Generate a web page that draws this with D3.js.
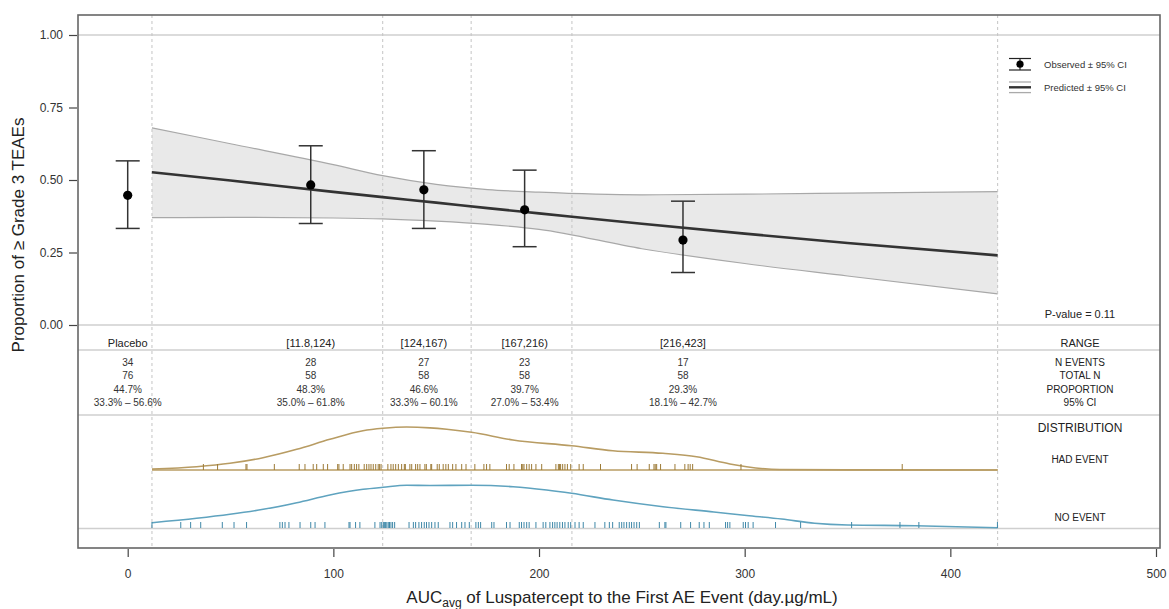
<!DOCTYPE html>
<html lang="en">
<head>
  <meta charset="UTF-8">
  <title>Exposure-response: Grade 3 TEAEs</title>
  <script src="https://d3js.org/d3.v7.min.js"></script>
  <style>
    body { margin: 0; padding: 0; background: #fff; font-family: "Liberation Sans", Arial, sans-serif; }
    svg { display: block; }
    .axis text { font-size: 12px; fill: #333; font-family: "Liberation Sans", Arial, sans-serif; }
    .axis path { display: none; }
    .axis line { stroke: #444; stroke-width: 1.2; }
    .tbl { font-size: 10px; fill: #333; text-anchor: middle; }
  </style>
</head>
<body>
<div id="chart"></div>
<script>
  // observed bins
  const binLabels = ["Placebo", "[11.8,124)", "[124,167)", "[167,216)", "[216,423]"];
  const binX      = [0, 89, 144, 193, 270];
  const obsProp   = [0.447, 0.483, 0.466, 0.397, 0.293];
  const obsLo     = [0.333, 0.350, 0.333, 0.270, 0.181];
  const obsHi     = [0.566, 0.618, 0.601, 0.534, 0.427];
  const nEvents   = ["34", "28", "27", "23", "17"];
  const totalN    = ["76", "58", "58", "58", "58"];
  const propText  = ["44.7%", "48.3%", "46.6%", "39.7%", "29.3%"];
  const ciText    = ["33.3% \u2013 56.6%", "35.0% \u2013 61.8%", "33.3% \u2013 60.1%", "27.0% \u2013 53.4%", "18.1% \u2013 42.7%"];
  const binEdges  = [11.8, 124, 167, 216, 423];

  // predicted logistic fit
  const predX  = [11.8, 50, 100, 124, 150, 175, 200, 250, 300, 350, 423];
  const predY  = [0.527, 0.498, 0.459, 0.441, 0.422, 0.403, 0.385, 0.349, 0.315, 0.283, 0.240];
  const predLo = [0.370, 0.371, 0.369, 0.366, 0.358, 0.347, 0.330, 0.263, 0.212, 0.169, 0.107];
  const predHi = [0.680, 0.625, 0.553, 0.515, 0.485, 0.467, 0.458, 0.449, 0.451, 0.455, 0.460];

  // exposure of subjects
  const hadEventAuc = [36.8, 43.7, 57.5, 58.0, 71.3, 83.4, 86.2, 90.2, 91.9, 95.1, 97.2, 102.1, 102.7, 104.8,
    108.1, 108.9, 110.2, 111.3, 112.4, 115.0, 116.2, 117.3, 118.3, 119.4, 120.6, 121.8, 122.5, 123.2,
    128.0, 129.1, 130.3, 131.6, 133.2, 134.5, 137.2, 138.1, 140.0, 141.0, 142.1, 144.5, 147.4, 147.8,
    150.5, 151.5, 153.4, 154.7, 155.9, 158.0, 159.6, 162.4, 164.5, 145.2, 135.0, 126.5,
    168.8, 173.2, 174.5, 176.1, 184.2, 185.5, 187.8, 191.5, 192.7, 194.0, 195.2, 196.4, 198.5, 201.3,
    208.2, 209.4, 210.5, 211.5, 212.6, 213.8, 215.4, 192.1, 210.0,
    219.5, 221.5, 229.9, 245.0, 247.7, 253.6, 255.9, 257.2, 259.1, 266.1, 270.9, 272.5, 274.7, 298.2, 376.6, 256.5, 273.5];
  const noEventAuc = [11.8, 25.8, 30.6, 35.5, 46.0, 51.7, 57.8, 74.0, 75.2, 76.5, 78.4, 83.8, 89.0, 91.1, 95.9,
    107.6, 108.1, 110.8, 112.9, 120.2, 122.7, 123.5,
    124.3, 124.8, 125.4, 126.0, 126.7, 127.3, 128.0, 128.8, 129.8, 136.8, 138.9, 140.0, 141.6, 142.9, 144.2,
    145.3, 146.5, 147.8, 149.4, 151.0, 156.7, 158.0, 159.9, 162.4, 164.0, 166.1,
    169.3, 170.5, 171.6, 177.0, 178.1, 184.2, 185.9, 190.4, 191.5, 192.7, 194.0, 195.2, 198.5, 202.0, 203.3,
    205.3, 206.6, 207.7, 208.8, 210.1, 211.4, 212.6, 214.2, 215.4,
    217.5, 219.5, 221.5, 227.2, 232.0, 234.2, 235.8, 239.0, 240.2, 241.3, 242.6, 243.9, 245.0, 246.2, 247.5,
    248.8, 258.5, 261.2, 261.7, 268.9, 273.7, 277.9, 280.2, 282.8, 290.7, 291.7, 292.8, 299.3, 300.4, 301.7,
    304.1, 315.0, 327.2, 352.0, 375.5, 384.7, 422.9];

  // smoothed distributions (relative height)
  const hadDensX = [11.8, 33.5, 49.7, 65.8, 82.2, 98.3, 114.4, 124.1, 135.6, 147, 155.1, 167.2, 187.3, 215.8, 235.9, 260.2, 276.6, 292.8, 300.9, 317.1, 350, 423];
  const hadDensY = [0.02, 0.077, 0.156, 0.286, 0.481, 0.714, 0.914, 0.970, 1.0, 0.98, 0.947, 0.877, 0.698, 0.565, 0.449, 0.388, 0.309, 0.14, 0.077, 0.01, 0.003, 0.0];
  const noDensX  = [11.8, 33.5, 49.7, 65.9, 82.2, 98.3, 114.5, 124.2, 135.6, 147, 167.2, 187.4, 203.7, 215.8, 236, 260.3, 285, 301, 318, 334, 350, 383, 423];
  const noDensY  = [0.133, 0.234, 0.326, 0.441, 0.593, 0.770, 0.901, 0.947, 0.993, 0.990, 0.993, 0.961, 0.885, 0.809, 0.655, 0.501, 0.38, 0.30, 0.218, 0.12, 0.08, 0.064, 0.018];

  const W = 1169, H = 609;
  const box = { left: 78, right: 1160, top: 15, bottom: 548 };

  const x = d3.scaleLinear().domain([0, 500]).range([127.7, 1156]);
  const y = d3.scaleLinear().domain([0, 1]).range([325, 35]);
  const yHad = d3.scaleLinear().domain([0, 1]).range([470, 427]);
  const yNo  = d3.scaleLinear().domain([0, 1]).range([528.5, 485]);

  const svg = d3.select("#chart").append("svg")
    .attr("width", W).attr("height", H);

  // horizontal rules
  const hLines = [y(1), y(0), 350, 415, 528.5];
  svg.append("g").selectAll("line").data(hLines).enter().append("line")
    .attr("x1", box.left).attr("x2", box.right)
    .attr("y1", d => d).attr("y2", d => d)
    .attr("stroke", "#cfcfcf").attr("stroke-width", 1.5);

  // prediction band
  const band = predX.map((v, i) => ({ x: v, lo: predLo[i], hi: predHi[i], p: predY[i] }));
  svg.append("path").datum(band)
    .attr("d", d3.area().x(d => x(d.x)).y0(d => y(d.lo)).y1(d => y(d.hi)).curve(d3.curveMonotoneX))
    .attr("fill", "#e9e9e9");
  ["lo", "hi"].forEach(k => {
    svg.append("path").datum(band)
      .attr("d", d3.line().x(d => x(d.x)).y(d => y(d[k])).curve(d3.curveMonotoneX))
      .attr("fill", "none").attr("stroke", "#a8a8a8").attr("stroke-width", 1.2);
  });

  // dashed bin edges
  svg.append("g").selectAll("line").data(binEdges).enter().append("line")
    .attr("x1", d => x(d)).attr("x2", d => x(d))
    .attr("y1", box.top).attr("y2", box.bottom)
    .attr("stroke", "#c4c4c4").attr("stroke-dasharray", "3,3").attr("stroke-width", 1);

  // predicted line
  svg.append("path").datum(band)
    .attr("d", d3.line().x(d => x(d.x)).y(d => y(d.p)).curve(d3.curveMonotoneX))
    .attr("fill", "none").attr("stroke", "#333").attr("stroke-width", 2.6);

  // observed error bars
  const obs = binX.map((v, i) => ({ x: v, p: obsProp[i], lo: obsLo[i], hi: obsHi[i] }));
  const eb = svg.append("g").selectAll("g").data(obs).enter().append("g");
  eb.append("line").attr("x1", d => x(d.x)).attr("x2", d => x(d.x))
    .attr("y1", d => y(d.lo)).attr("y2", d => y(d.hi))
    .attr("stroke", "#333").attr("stroke-width", 1.5);
  ["lo", "hi"].forEach(k => {
    eb.append("line").attr("x1", d => x(d.x) - 12).attr("x2", d => x(d.x) + 12)
      .attr("y1", d => y(d[k])).attr("y2", d => y(d[k]))
      .attr("stroke", "#333").attr("stroke-width", 1.5);
  });
  eb.append("circle").attr("cx", d => x(d.x)).attr("cy", d => y(d.p)).attr("r", 4.6).attr("fill", "#000");

  // table text
  const tbl = svg.append("g");
  binLabels.forEach((lab, i) => {
    const cx = x(binX[i]);
    tbl.append("text").attr("class", "tbl").attr("x", cx).attr("y", 347).style("font-size", "11px").style("fill", "#222").text(lab);
    [nEvents[i], totalN[i], propText[i], ciText[i]].forEach((t, j) => {
      tbl.append("text").attr("class", "tbl").attr("x", cx).attr("y", 366 + j * 13.3).text(t);
    });
  });

  // right column labels
  const rx = 1080;
  const rightText = [
    ["P-value = 0.11", 318, 11], ["RANGE", 347, 11], ["N EVENTS", 366, 10], ["TOTAL N", 379.3, 10],
    ["PROPORTION", 392.6, 10], ["95% CI", 405.9, 10], ["DISTRIBUTION", 432, 12], ["HAD EVENT", 463, 10], ["NO EVENT", 521, 10]
  ];
  rightText.forEach(([t, yy, fs]) => {
    svg.append("text").attr("x", rx).attr("y", yy).attr("text-anchor", "middle")
      .style("font-size", fs + "px").style("fill", "#222").text(t);
  });

  // distributions
  const hadCol = "#b89c63", noCol = "#5fa3bf";
  svg.append("line").attr("x1", x(11.8)).attr("x2", x(423)).attr("y1", yHad(0)).attr("y2", yHad(0))
    .attr("stroke", hadCol).attr("stroke-width", 1.5);
  svg.append("path").datum(hadDensX.map((v, i) => [v, hadDensY[i]]))
    .attr("d", d3.line().x(d => x(d[0])).y(d => yHad(d[1])).curve(d3.curveMonotoneX))
    .attr("fill", "none").attr("stroke", hadCol).attr("stroke-width", 1.6);
  svg.append("path").datum(noDensX.map((v, i) => [v, noDensY[i]]))
    .attr("d", d3.line().x(d => x(d[0])).y(d => yNo(d[1])).curve(d3.curveMonotoneX))
    .attr("fill", "none").attr("stroke", noCol).attr("stroke-width", 1.6);

  svg.append("g").selectAll("line").data(hadEventAuc).enter().append("line")
    .attr("x1", d => x(d)).attr("x2", d => x(d))
    .attr("y1", yHad(0) - 6).attr("y2", yHad(0))
    .attr("stroke", "#9c7a36").attr("stroke-width", 1);
  svg.append("g").selectAll("line").data(noEventAuc).enter().append("line")
    .attr("x1", d => x(d)).attr("x2", d => x(d))
    .attr("y1", yNo(0) - 6.5).attr("y2", yNo(0) - 0.5)
    .attr("stroke", "#3f88a8").attr("stroke-width", 1);

  // frame
  svg.append("rect").attr("x", box.left).attr("y", box.top)
    .attr("width", box.right - box.left).attr("height", box.bottom - box.top)
    .attr("fill", "none").attr("stroke", "#666").attr("stroke-width", 1.6);

  // axes
  svg.append("g").attr("class", "axis")
    .attr("transform", `translate(0,${box.bottom + 1})`)
    .call(d3.axisBottom(x).tickValues([0, 100, 200, 300, 400, 500]).tickSize(8).tickPadding(12).tickFormat(d3.format("d")));
  svg.append("g").attr("class", "axis")
    .attr("transform", `translate(${box.left - 1},0)`)
    .call(d3.axisLeft(y).tickValues([0, 0.25, 0.5, 0.75, 1]).tickSize(8).tickPadding(6).tickFormat(d3.format(".2f")));

  // axis titles
  svg.append("text").attr("transform", "translate(24,235) rotate(-90)")
    .attr("text-anchor", "middle").style("font-size", "17px").style("fill", "#222")
    .text("Proportion of \u2265 Grade 3 TEAEs");
  const xt = svg.append("text").attr("x", 622).attr("y", 603)
    .attr("text-anchor", "middle").style("font-size", "17px").style("fill", "#222");
  xt.append("tspan").text("AUC");
  xt.append("tspan").attr("dy", 4).style("font-size", "12px").text("avg");
  xt.append("tspan").attr("dy", -4).text(" of Luspatercept to the First AE Event (day.\u00b5g/mL)");

  // legend
  const lg = svg.append("g").attr("transform", "translate(1020,0)");
  lg.append("line").attr("x1", 0).attr("x2", 0).attr("y1", 58.5).attr("y2", 70).attr("stroke", "#222").attr("stroke-width", 1.2);
  [58.5, 70].forEach(v => lg.append("line").attr("x1", -11).attr("x2", 11).attr("y1", v).attr("y2", v).attr("stroke", "#222").attr("stroke-width", 1.2));
  lg.append("circle").attr("cx", 0).attr("cy", 64.2).attr("r", 3.6).attr("fill", "#000");
  lg.append("line").attr("x1", -11).attr("x2", 11).attr("y1", 82).attr("y2", 82).attr("stroke", "#aaa").attr("stroke-width", 1.3);
  lg.append("line").attr("x1", -11).attr("x2", 11).attr("y1", 87.3).attr("y2", 87.3).attr("stroke", "#333").attr("stroke-width", 2.4);
  lg.append("line").attr("x1", -11).attr("x2", 11).attr("y1", 92.6).attr("y2", 92.6).attr("stroke", "#aaa").attr("stroke-width", 1.3);
  lg.append("text").attr("x", 24).attr("y", 67.5).style("font-size", "9.5px").style("fill", "#333").text("Observed \u00b1 95% CI");
  lg.append("text").attr("x", 24).attr("y", 90.5).style("font-size", "9.5px").style("fill", "#333").text("Predicted \u00b1 95% CI");
</script>
</body>
</html>
